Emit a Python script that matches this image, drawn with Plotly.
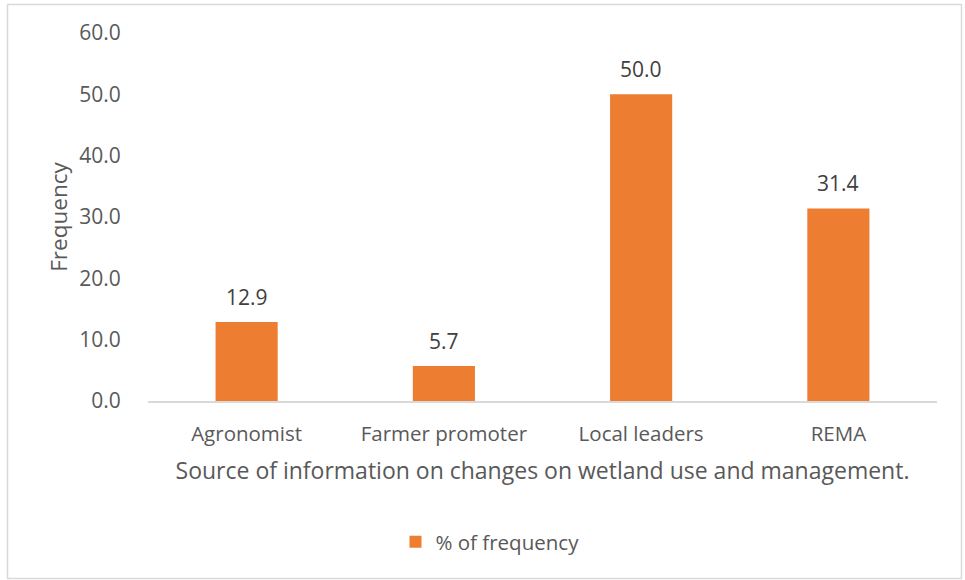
import plotly.graph_objects as go

categories = ["Agronomist", "Farmer promoter", "Local leaders", "REMA"]
values = [12.9, 5.7, 50.0, 31.4]
series_name = "% of frequency"
y_ticks = [0, 10, 20, 30, 40, 50, 60]

W, H = 965, 580
L, R, T, B = 148, 28, 33, 179
pw, ph = W - L - R, H - T - B

def px2x(px):
    return (px - L) / pw

def py2y(py):
    return (H - B - py) / ph

font_family = "Open Sans, sans-serif"
TXT = "#595959"

fig = go.Figure()
fig.add_trace(go.Bar(
    x=categories, y=values, name=series_name,
    marker=dict(color="#ED7D31", line=dict(width=0)),
    showlegend=True,
))

for c, v in zip(categories, values):
    fig.add_annotation(
        x=c, y=v, text=f"{v:.1f}", showarrow=False,
        xref="x", yref="y", yanchor="bottom", yshift=9,
        font=dict(size=21, color="#404040", family=font_family),
    )

fig.update_layout(
    width=W, height=H,
    margin=dict(l=L, r=R, t=T, b=B),
    paper_bgcolor="white", plot_bgcolor="white",
    font=dict(family=font_family, color=TXT, size=20.5),
    bargap=0.685,
    xaxis=dict(
        showgrid=False, showline=True, linecolor="#d9d9d9", linewidth=1.5,
        ticks="outside", ticklen=14, tickcolor="rgba(0,0,0,0)",
        tickfont=dict(size=20.5, color=TXT),
        title=dict(text="Source of information on changes on wetland use and management.",
                   font=dict(size=23, color=TXT), standoff=17),
    ),
    yaxis=dict(
        range=[0, 60], tickvals=y_ticks, ticktext=[f"{v:.1f}" for v in y_ticks],
        showgrid=False, zeroline=False, showline=False,
        ticks="outside", ticklen=22, tickcolor="rgba(0,0,0,0)",
        tickfont=dict(size=21, color=TXT),
        title=dict(text="Frequency", font=dict(size=22.5, color=TXT), standoff=5),
    ),
    legend=dict(
        orientation="h", x=px2x(490), xanchor="center", y=py2y(542), yanchor="middle",
        font=dict(size=20.5, color=TXT), itemwidth=30,
    ),
    shapes=[dict(
        type="rect", xref="paper", yref="paper",
        x0=px2x(7.5), x1=px2x(961.5), y0=py2y(578.5), y1=py2y(4.5),
        line=dict(color="#d9d9d9", width=1.5), fillcolor="rgba(0,0,0,0)", layer="below",
    )],
)

fig.write_html("out.html")
